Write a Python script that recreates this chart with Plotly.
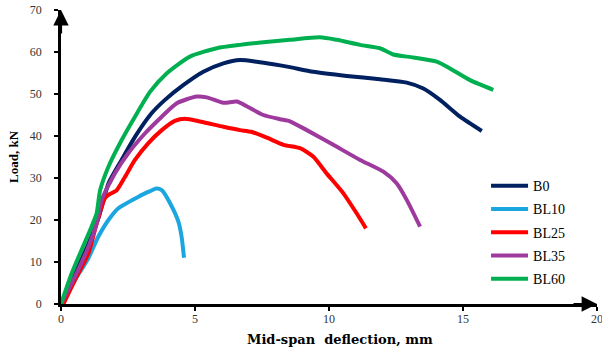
import plotly.graph_objects as go

# ---- data ----
b0_x = [0, 0.5, 1.0, 1.4, 1.77, 2.26, 2.76, 3.38, 3.88, 4.56, 5.31, 6.06, 6.68, 7.3, 7.92, 8.54,
        9.41, 10.66, 11.9, 12.9, 13.52, 14.14, 14.89, 15.7]
b0_y = [0, 7, 14, 20.5, 28.7, 34.3, 39.8, 45.4, 48.6, 52.1, 55.3, 57.3, 58.1, 57.7, 57.1, 56.4,
        55.3, 54.3, 53.5, 52.7, 51.3, 48.6, 44.6, 41.2]

bl10_x = [0, 0.5, 1.02, 1.39, 1.77, 2.14, 2.88, 3.3, 3.55, 3.76, 4.07, 4.38, 4.5, 4.59]
bl10_y = [0, 5.5, 10.9, 16, 20, 22.8, 25.5, 26.8, 27.5, 27.1, 24, 19.6, 16, 11]

bl25_x = [0.09, 0.52, 1.02, 1.33, 1.64, 1.77, 2.08, 2.39, 2.76, 3.26, 3.76, 4.25, 4.63, 5.22,
          6.06, 6.68, 7.1, 7.68, 8.3, 8.92, 9.41, 9.91, 10.53, 11.03, 11.38]
bl25_y = [0, 5.7, 12, 19.2, 25.2, 26, 27.1, 30.3, 34.3, 38.3, 41.4, 43.6, 44.1, 43.4,
          42.2, 41.4, 41.0, 39.6, 37.9, 37.1, 35.1, 31.1, 26.4, 21.6, 18]

bl35_x = [0, 0.52, 1.02, 1.33, 1.52, 2.01, 2.51, 3.13, 3.76, 4.32, 5.06, 5.44, 6.06, 6.56, 6.93,
          7.55, 8.17, 8.54, 9.17, 10.16, 11.16, 12.03, 12.53, 12.9, 13.4]
bl35_y = [0, 6.5, 13.6, 19.2, 24.8, 31.1, 35.9, 40.6, 44.6, 47.8, 49.4, 49.2, 47.9, 48.2, 47.1,
          45.0, 44.0, 43.5, 41.4, 37.9, 34.3, 31.5, 28.7, 24.8, 18.4]

bl60_x = [0, 0.4, 0.77, 1.14, 1.33, 1.46, 1.77, 2.26, 2.76, 3.32, 3.94, 4.81, 5.81, 6.68, 7.55,
          8.54, 9.66, 10.29, 11.16, 11.9, 12.4, 13.15, 14.02, 14.51, 15.26, 16.13]
bl60_y = [0, 7.3, 12.9, 18.4, 21.6, 27.1, 32.7, 39, 44.6, 50.5, 54.9, 58.9, 60.9, 61.7, 62.3,
          62.9, 63.5, 62.9, 61.7, 60.9, 59.4, 58.7, 57.7, 56.1, 53.3, 51]

series_names = ["B0", "BL10", "BL25", "BL35", "BL60"]
series_x = [b0_x, bl10_x, bl25_x, bl35_x, bl60_x]
series_y = [b0_y, bl10_y, bl25_y, bl35_y, bl60_y]
colors = ["#002060", "#1CA6DF", "#FF0000", "#9E3A9E", "#00B050"]

x_ticks = [0, 5, 10, 15, 20]
y_ticks = [0, 10, 20, 30, 40, 50, 60, 70]

SERIF = "Liberation Serif, Times New Roman, serif"
WIDE_SERIF = "DejaVu Serif, serif"

fig = go.Figure()
for name, xs, ys, c in zip(series_names, series_x, series_y, colors):
    fig.add_trace(go.Scatter(x=xs, y=ys, name=name, mode="lines", legendgroup=name,
                             line=dict(color=c, width=4, shape="spline", smoothing=0.6)))

axis_common = dict(showgrid=False, zeroline=False, showline=True, linecolor="black",
                   linewidth=2.5, ticks="outside", ticklen=4, tickwidth=2, tickcolor="black",
                   automargin=False, ticklabeloverflow="allow",
                   tickfont=dict(family=SERIF, size=12, color="#333333"))
overlay_common = dict(showgrid=False, zeroline=False, showline=False, ticks="inside",
                      ticklen=4, tickwidth=2, tickcolor="black", showticklabels=False,
                      automargin=False)

fig.update_layout(
    template="none",
    width=602, height=352,
    margin=dict(l=61, r=5, t=10, b=48),
    paper_bgcolor="white", plot_bgcolor="white",
    showlegend=True,
    legend=dict(x=0.793, y=0.455, xanchor="left", yanchor="top",
                font=dict(family=SERIF, size=14, color="black"),
                bgcolor="rgba(0,0,0,0)", itemwidth=37, tracegroupgap=2),
    xaxis=dict(range=[0, 20], tickvals=x_ticks, ticklabelstandoff=-2, **axis_common),
    yaxis=dict(range=[0, 70], tickvals=y_ticks, ticklabelstandoff=10, **axis_common),
    xaxis2=dict(range=[0, 20], tickvals=x_ticks, overlaying="x", anchor="y2", side="bottom",
                **overlay_common),
    yaxis2=dict(range=[0, 70], tickvals=y_ticks, overlaying="y", anchor="x2", side="left",
                **overlay_common),
)

# axis titles
fig.add_annotation(text="<b>Mid-span  deflection, mm</b>", xref="paper", yref="paper",
                   x=0.52, y=0, yshift=-35, xanchor="center", yanchor="middle",
                   showarrow=False, font=dict(family=WIDE_SERIF, size=13, color="black"))
fig.add_annotation(text="<b>Load, kN</b>", xref="paper", yref="paper", x=0, y=0.5,
                   xshift=-48, xanchor="center", yanchor="middle", textangle=-90,
                   showarrow=False, font=dict(family=SERIF, size=13, color="black"))

# axis arrowheads
fig.add_annotation(x=0, y=70, xref="x", yref="y", ax=0, ay=25, axref="pixel", ayref="pixel",
                   showarrow=True, arrowhead=2, arrowsize=1.4, arrowwidth=2.2,
                   arrowcolor="black", text="")
fig.add_annotation(x=20, y=0, xref="x", yref="y", ax=-25, ay=0, axref="pixel", ayref="pixel",
                   showarrow=True, arrowhead=2, arrowsize=1.4, arrowwidth=2.2,
                   arrowcolor="black", text="")

fig.write_html("out.html", config={"displayModeBar": False},
               post_script="document.body.style.margin='0px';")
